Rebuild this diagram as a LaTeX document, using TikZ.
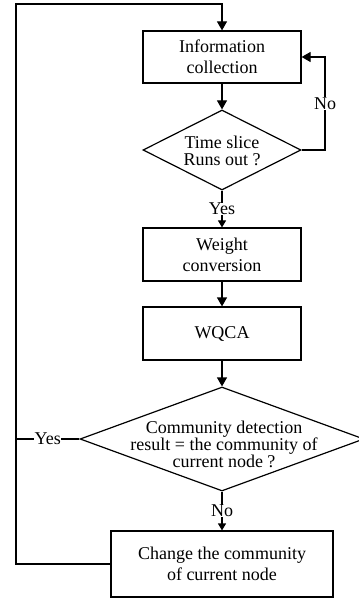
\documentclass[tikz,border=0pt]{standalone}
\usepackage{fontspec}
\setmainfont{Liberation Serif}
\usetikzlibrary{shapes.geometric,arrows.meta,calc}
\begin{document}
\begin{tikzpicture}[x=1pt,y=-1pt,
  line width=1.2pt,
  every node/.style={font=\fontsize{18}{21}\selectfont},
  box/.style={draw,rectangle,align=center,inner sep=0pt,minimum width=158pt,minimum height=53pt},
  dia/.style={draw,diamond,inner sep=0pt},
  dtext/.style={align=center,font=\fontsize{18}{16.5}\selectfont},
  arr/.style={-{Triangle[length=9pt,width=10pt]}},
  sarr/.style={-{Triangle[length=7pt,width=8pt]}},
  lbl/.style={fill=white,inner sep=0.5pt}]
\useasboundingbox (0,0) rectangle (358,601);
\node[box,minimum height=52pt] (info) at (222,57) {Information\\collection};
\node[dia,minimum width=158pt,minimum height=80pt] (d1) at (222,150) {};
\node[dtext] (t1) at (222,151) {Time slice\\Runs out ?};
\node[box] (weight) at (222,254.5) {Weight\\conversion};
\node[box] (wqca) at (222,333.5) {WQCA};
\node[dia,minimum width=284pt,minimum height=104pt] (d2) at (222,439) {};
\node[dtext] (t2) at (224,444) {Community detection\\result = the community of\\current node ?};
\node[box,minimum width=222pt,minimum height=66pt] (change) at (222,564) {Change the community\\of current node};
\coordinate (lx) at (16,4);
\coordinate (rx) at (325,0);
% connectors
\draw[arr] (info) -- (d1.north);
\draw[sarr] (d1.south) -- node[lbl,pos=0.5]{Yes} (weight.north);
\draw[arr] (weight) -- (wqca);
\draw[arr] (wqca) -- (d2.north);
\draw[sarr] (d2.south) -- node[lbl,pos=0.5]{No} (change.north);
\draw[arr] (d1.east) -- (d1.east -| rx) -- node[lbl,pos=0.5]{No} (info.east -| rx) -- (info.east);
\draw (d2.west) -- node[lbl,pos=0.5]{Yes} (d2.west -| lx);
\draw[arr] (change.west) -- (change.west -| lx) -- (lx) -- (lx -| info) -- (info.north);
\end{tikzpicture}
\end{document}
